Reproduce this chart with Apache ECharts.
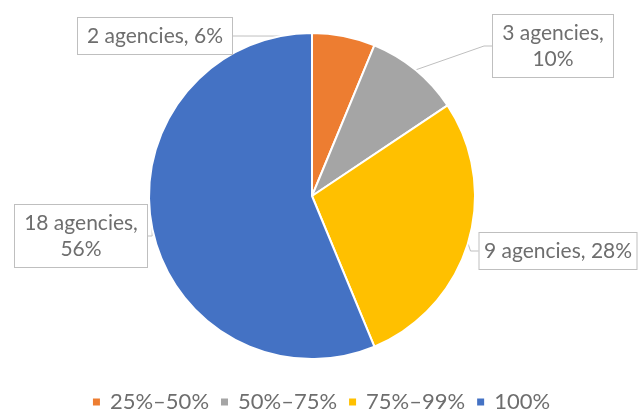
<!DOCTYPE html>
<html>
<head>
<meta charset="utf-8">
<script src="https://cdn.jsdelivr.net/npm/echarts@6/dist/echarts.min.js"></script>
<style>
  html, body { margin: 0; padding: 0; background: #fff; }
  #chart { width: 641px; height: 412px; }
</style>
</head>
<body>
<div id="chart"></div>
<script>
// Datos del gráfico
const categories = ["25%–50%", "50%–75%", "75%–99%", "100%"];
const agencies = [2, 3, 9, 18];
const pctLabels = ["6%", "10%", "28%", "56%"];
const colors = ["#ED7D31", "#A5A5A5", "#FFC000", "#4472C4"];

// Posición (centro de la caja) y ancho de cada etiqueta
const labelPos = [
  [155, 36],
  [553, 46],
  [558, 251],
  [81, 236],
];
const labelWidths = [136, 102, 139, 114];
// Etiquetas que van en dos líneas
const wrapped = [false, true, false, true];

const chart = echarts.init(document.getElementById("chart"));

const option = {
  animation: false,
  color: colors,
  legend: {
    top: 386,
    left: "center",
    icon: "rect",
    itemWidth: 9,
    itemHeight: 9,
    itemGap: 10,
    textStyle: {
      color: "#6e6e6e",
      fontSize: 22,
      fontFamily: "Lato",
      padding: [0, 0, 0, 4],
    },
    data: categories,
  },
  series: [
    {
      type: "pie",
      center: [312, 196],
      radius: 163,
      startAngle: 90,
      clockwise: true,
      itemStyle: { borderColor: "#fff", borderWidth: 2 },
      data: categories.map((c, i) => ({
        name: c,
        value: agencies[i],
        label: { width: labelWidths[i] },
      })),
      label: {
        show: true,
        position: "outside",
        overflow: "none",
        align: "center",
        formatter: (p) =>
          p.value + " agencies," + (wrapped[p.dataIndex] ? "\n" : " ") + pctLabels[p.dataIndex],
        color: "#6e6e6e",
        fontSize: 21,
        fontFamily: "Lato",
        lineHeight: 26,
        backgroundColor: "#fff",
        borderColor: "#bfbfbf",
        borderWidth: 1,
        padding: [5, 9],
      },
      labelLine: {
        show: true,
        length: 8,
        length2: 8,
        lineStyle: { color: "#bfbfbf", width: 1 },
      },
      labelLayout: (params) => ({
        x: labelPos[params.dataIndex][0],
        y: labelPos[params.dataIndex][1],
        align: "center",
        verticalAlign: "middle",
      }),
    },
  ],
};

chart.setOption(option);
</script>
</body>
</html>
